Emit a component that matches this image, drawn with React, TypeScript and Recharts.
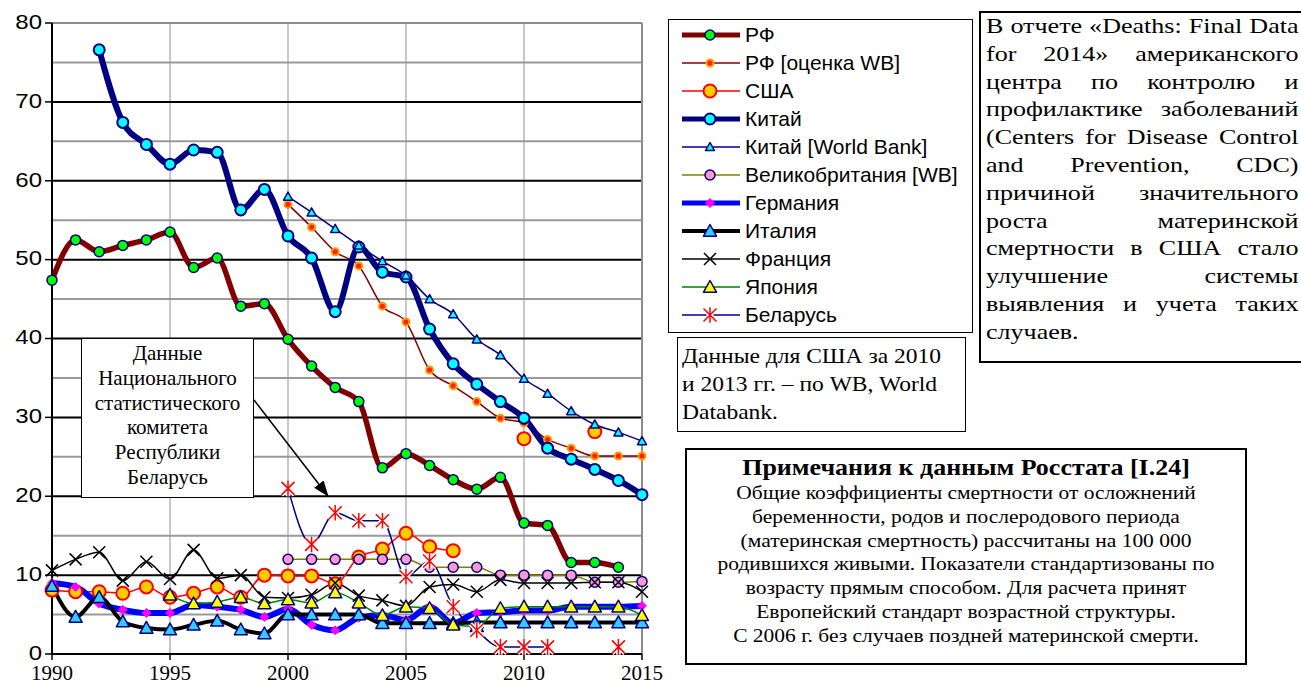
import React from "react";
import { LineChart, Line, XAxis, YAxis, CartesianGrid } from "recharts";

const years = [
  1990, 1991, 1992, 1993, 1994, 1995, 1996, 1997, 1998, 1999, 2000, 2001, 2002,
  2003, 2004, 2005, 2006, 2007, 2008, 2009, 2010, 2011, 2012, 2013, 2014, 2015,
];

const rf = [
  47.4, 52.5, 51.0, 51.8, 52.5, 53.5, 49.0, 50.2, 44.1, 44.4, 39.9, 36.5, 33.8,
  32.0, 23.6, 25.4, 23.9, 22.1, 20.9, 22.4, 16.6, 16.3, 11.6, 11.6, 11.0, null,
];
const rfWb = [
  null, null, null, null, null, null, null, null, null, null, 57.0, 54.1, 51.0,
  49.2, 44.1, 42.1, 36.0, 34.0, 32.0, 29.9, 29.3, 27.2, 26.1, 25.1, 25.1, 25.1,
];
const usa = [
  8.1, 7.9, 7.9, 7.7, 8.5, 7.2, 7.7, 8.5, 7.2, 10.0, 9.9, 9.9, 8.9, 12.3, 13.3,
  15.3, 13.6, 13.1, null, null, 27.3, null, null, 28.2, null, null,
];
const china = [
  null, null, 76.6, 67.4, 64.6, 62.1, 63.9, 63.6, 56.3, 58.9, 53.0, 50.2, 43.4,
  51.6, 48.4, 47.8, 41.2, 36.8, 34.2, 32.0, 29.9, 26.1, 24.7, 23.4, 22.0, 20.2,
];
const chinaWb = [
  null, null, null, null, null, null, null, null, null, null, 58.0, 56.0, 53.9,
  51.8, 49.8, 48.0, 45.0, 43.1, 39.9, 37.9, 34.9, 33.0, 30.8, 29.1, 28.1, 27.0,
];
const ukWb = [
  null, null, null, null, null, null, null, null, null, null, 12, 12, 12, 12,
  12, 12, 11, 11, 11, 10, 10, 10, 10, 9.1, 9.1, 9.2,
];
const germany = [
  9.0, 8.5, 6.4, 5.6, 5.2, 5.2, 6.2, 6.0, 5.6, 4.7, 5.7, 3.7, 3.0, 4.6, 4.9,
  4.3, 6.0, 3.9, 5.2, 5.3, 5.5, 5.5, 6.0, 6.0, 6.0, 6.1,
];
const italy = [
  8.6, 4.7, 7.2, 4.1, 3.3, 3.1, 3.7, 4.2, 3.1, 2.6, 5.0, 5.0, 5.0, 5.0, 3.9,
  3.9, 3.9, 3.9, 4.0, 4.0, 4.0, 4.0, 4.0, 4.0, 4.0, 4.0,
];
const france = [
  10.6, 12.0, 12.9, 9.3, 11.7, 9.5, 13.2, 9.6, 10.0, 7.2, 7.1, 7.5, 9.0, 7.4,
  6.8, 6.1, 8.5, 8.8, 7.9, 9.4, 9.0, 9.0, 9.0, 9.1, 9.1, 7.9,
];
const japan = [
  null, null, null, null, null, 7.5, 6.4, 6.6, 7.2, 6.4, 6.9, 6.5, 7.8, 6.5,
  4.9, 6.0, 5.8, 3.7, 3.5, 5.8, 6.0, 6.0, 6.0, 6.0, 6.0, 4.9,
];
const belarus = [
  null, null, null, null, null, null, null, null, null, null, 21.0, 13.9, 17.9,
  16.9, 16.9, 9.8, 11.8, 6.0, 3.0, 0.9, 0.9, 0.9, null, null, 0.9, null,
];

const xTicks = [1990, 1995, 2000, 2005, 2010, 2015];
const yTicks = [0, 10, 20, 30, 40, 50, 60, 70, 80];

const SERIF = "'Liberation Serif', 'Times New Roman', serif";
const SANS = "'Liberation Sans', Arial, sans-serif";

type MarkerKind = "circle" | "triangle" | "diamond" | "cross" | "star";

interface MarkerStyle {
  kind: MarkerKind;
  size: number;
  fill: string;
  stroke: string;
  sw: number;
}

interface SeriesDef {
  key: string;
  name: string;
  values: (number | null)[];
  stroke: string;
  width: number;
  marker: MarkerStyle;
}

const series: SeriesDef[] = [
  { key: "rf", name: "РФ", values: rf, stroke: "#800000", width: 5.5,
    marker: { kind: "circle", size: 5, fill: "#00ff00", stroke: "#000080", sw: 1.5 } },
  { key: "rfWb", name: "РФ [оценка WB]", values: rfWb, stroke: "#800000", width: 1.5,
    marker: { kind: "circle", size: 3.5, fill: "#ff2000", stroke: "#ff9900", sw: 2 } },
  { key: "usa", name: "США", values: usa, stroke: "#ff0000", width: 1.5,
    marker: { kind: "circle", size: 6.5, fill: "#ffcc00", stroke: "#ff0000", sw: 2 } },
  { key: "china", name: "Китай", values: china, stroke: "#000080", width: 6,
    marker: { kind: "circle", size: 5.5, fill: "#00ffff", stroke: "#000080", sw: 2 } },
  { key: "chinaWb", name: "Китай [World Bank]", values: chinaWb, stroke: "#000080", width: 1.5,
    marker: { kind: "triangle", size: 4.5, fill: "#00ffff", stroke: "#000080", sw: 1.5 } },
  { key: "ukWb", name: "Великобритания [WB]", values: ukWb, stroke: "#808000", width: 1.5,
    marker: { kind: "circle", size: 5, fill: "#ff99cc", stroke: "#000080", sw: 1.5 } },
  { key: "germany", name: "Германия", values: germany, stroke: "#0000ff", width: 6,
    marker: { kind: "diamond", size: 4.5, fill: "#ff00ff", stroke: "#ff00ff", sw: 1 } },
  { key: "italy", name: "Италия", values: italy, stroke: "#000000", width: 4,
    marker: { kind: "triangle", size: 6.5, fill: "#33ccff", stroke: "#000080", sw: 1.5 } },
  { key: "france", name: "Франция", values: france, stroke: "#000000", width: 1.5,
    marker: { kind: "cross", size: 6, fill: "none", stroke: "#000000", sw: 1.5 } },
  { key: "japan", name: "Япония", values: japan, stroke: "#008000", width: 1.5,
    marker: { kind: "triangle", size: 6.5, fill: "#ffff00", stroke: "#000080", sw: 1.5 } },
  { key: "belarus", name: "Беларусь", values: belarus, stroke: "#000080", width: 1.5,
    marker: { kind: "star", size: 6.5, fill: "none", stroke: "#ff0000", sw: 1.5 } },
];

const data = years.map((year, i) => {
  const row: Record<string, number | null> = { year };
  series.forEach((s) => {
    row[s.key] = s.values[i];
  });
  return row;
});

const Marker = ({ m, cx, cy }: { m: MarkerStyle; cx: number; cy: number }) => {
  const s = m.size;
  if (m.kind === "circle") {
    return <circle cx={cx} cy={cy} r={s} fill={m.fill} stroke={m.stroke} strokeWidth={m.sw} />;
  }
  if (m.kind === "triangle") {
    const pts = `${cx},${cy - s} ${cx - s},${cy + s * 0.8} ${cx + s},${cy + s * 0.8}`;
    return <polygon points={pts} fill={m.fill} stroke={m.stroke} strokeWidth={m.sw} strokeLinejoin="round" />;
  }
  if (m.kind === "diamond") {
    const pts = `${cx},${cy - s} ${cx + s},${cy} ${cx},${cy + s} ${cx - s},${cy}`;
    return <polygon points={pts} fill={m.fill} stroke={m.stroke} strokeWidth={m.sw} />;
  }
  if (m.kind === "cross") {
    const d = `M${cx - s},${cy - s}L${cx + s},${cy + s}M${cx + s},${cy - s}L${cx - s},${cy + s}`;
    return <path d={d} stroke={m.stroke} strokeWidth={m.sw} fill="none" />;
  }
  const d =
    `M${cx - s},${cy - s}L${cx + s},${cy + s}M${cx + s},${cy - s}L${cx - s},${cy + s}` +
    `M${cx},${cy - s * 1.2}L${cx},${cy + s * 1.2}`;
  return (
    <g>
      <path d={d} stroke="#ffffff" strokeWidth={m.sw + 3} fill="none" />
      <path d={d} stroke={m.stroke} strokeWidth={m.sw} fill="none" />
    </g>
  );
};

const makeDot = (m: MarkerStyle) => (props: any) => {
  const { cx, cy, index, value } = props;
  if (cx == null || cy == null || value == null) return <g key={`e-${index}`} />;
  return (
    <g key={`d-${index}`}>
      <Marker m={m} cx={cx} cy={cy} />
    </g>
  );
};

// the source picture has its lettering stretched sideways a little
const YTick = (props: any) => {
  const { x, y, payload } = props;
  return (
    <text
      x={0}
      y={0}
      transform={`translate(${x},${y - 1}) scale(1.2,1)`}
      textAnchor="end"
      dominantBaseline="central"
      fontFamily={SANS}
      fontSize={20}
      fill="#000"
    >
      {payload.value}
    </text>
  );
};

const boxBase: React.CSSProperties = {
  position: "absolute",
  boxSizing: "border-box",
  background: "#fff",
  border: "1.5px solid #000",
  color: "#000",
};

const noteLines = [
  "В отчете «Deaths: Final Data",
  "for 2014» американского",
  "центра по контролю и",
  "профилактике заболеваний",
  "(Centers for Disease Control",
  "and Prevention, CDC)",
  "причиной значительного",
  "роста материнской",
  "смертности в США стало",
  "улучшение системы",
  "выявления и учета таких",
];

const rosstatLines = [
  "Общие коэффициенты смертности от осложнений",
  "беременности, родов и послеродового периода",
  "(материнская смертность) рассчитаны на 100 000",
  "родившихся живыми. Показатели стандартизованы по",
  "возрасту прямым способом. Для расчета принят",
  "Европейский стандарт возрастной структуры.",
  "С 2006 г. без случаев поздней материнской смерти.",
];

const belarusLines = ["Данные", "Национального", "статистического", "комитета", "Республики", "Беларусь"];

export default function App() {
  return (
    <div style={{ position: "absolute", left: 0, top: 0, width: 1301, height: 686, background: "#fff", overflow: "hidden" }}>
      <LineChart width={1301} height={686} data={data} margin={{ top: 23, right: 659, left: 0, bottom: 0 }}>
        <CartesianGrid horizontal={false} verticalValues={[1995, 2000, 2005, 2010]} stroke="#c8c8c8" strokeWidth={2} />
        <CartesianGrid vertical={false} horizontalValues={[5, 15, 25, 35, 45, 55, 65, 75]} stroke="#999999" strokeWidth={2} />
        <CartesianGrid vertical={false} horizontalValues={[10, 20, 30, 40, 50, 60, 70]} stroke="#000000" strokeWidth={2} />
        <CartesianGrid horizontalValues={[80]} verticalValues={[2015]} stroke="#8c8c8c" strokeWidth={2} />
        <XAxis
          dataKey="year"
          type="number"
          domain={[1990, 2015]}
          ticks={xTicks}
          interval={0}
          height={32}
          tickSize={6}
          tickMargin={5}
          axisLine={{ stroke: "#000", strokeWidth: 2 }}
          tickLine={{ stroke: "#000", strokeWidth: 1.5 }}
          tick={{ fontFamily: SERIF, fontSize: 21, fill: "#000" }}
        />
        <YAxis
          domain={[0, 80]}
          ticks={yTicks}
          interval={0}
          width={52}
          tickSize={7}
          tickMargin={3}
          axisLine={{ stroke: "#000", strokeWidth: 2 }}
          tickLine={{ stroke: "#000", strokeWidth: 1.5 }}
          tick={<YTick />}
        />
        {series.map((s) => (
          <Line
            key={s.key}
            dataKey={s.key}
            name={s.name}
            type="monotone"
            stroke={s.stroke}
            strokeWidth={s.width}
            dot={makeDot(s.marker)}
            activeDot={false}
            connectNulls={false}
            isAnimationActive={false}
          />
        ))}
      </LineChart>

      {/* legend */}
      <div style={{ ...boxBase, left: 668, top: 19, width: 305, height: 314, fontFamily: SANS, fontSize: 21 }}>
        {series.map((s, i) => (
          <div key={s.key} style={{ position: "absolute", left: 0, top: 1 + i * 28, height: 28, display: "flex", alignItems: "center" }}>
            <svg width={76} height={28}>
              <line x1={13} y1={14} x2={71} y2={14} stroke={s.stroke} strokeWidth={Math.min(s.width, 5)} />
              <Marker m={s.marker} cx={41} cy={14} />
            </svg>
            <span style={{ whiteSpace: "nowrap" }}>{s.name}</span>
          </div>
        ))}
      </div>

      {/* CDC note */}
      <div style={{ ...boxBase, left: 979, top: 11, width: 340, height: 352, border: "2px solid #000", padding: "0 0 0 5px", fontFamily: SERIF, fontSize: 21, lineHeight: "27.8px" }}>
        <div style={{ width: 252, transform: "scaleX(1.24)", transformOrigin: "left top" }}>
          {noteLines.map((l, i) => (
            <div key={i} style={{ textAlign: "justify", textAlignLast: "justify", whiteSpace: "nowrap" }}>{l}</div>
          ))}
          <div>случаев.</div>
        </div>
      </div>

      {/* US note */}
      <div style={{ ...boxBase, left: 677, top: 337, width: 289, height: 95, padding: "4px 0 0 4px", fontFamily: SERIF, fontSize: 21, lineHeight: "28px" }}>
        <div style={{ transform: "scaleX(1.12)", transformOrigin: "left top", whiteSpace: "nowrap" }}>
          Данные для США за 2010
          <br />и 2013 гг. – по WB, World
          <br />Databank.
        </div>
      </div>

      {/* Rosstat note */}
      <div style={{ ...boxBase, left: 685, top: 448, width: 562, height: 217, border: "2px solid #000", padding: "5px 0 0 0", fontFamily: SERIF, textAlign: "center" }}>
        <div style={{ transform: "scaleX(1.13)", transformOrigin: "center top" }}>
          <div style={{ fontWeight: "bold", fontSize: 23, lineHeight: "26px", whiteSpace: "nowrap" }}>Примечания к данным Росстата [I.24]</div>
          {rosstatLines.map((l, i) => (
            <div key={i} style={{ fontSize: 19, lineHeight: "23.8px", whiteSpace: "nowrap" }}>{l}</div>
          ))}
        </div>
      </div>

      {/* Belarus annotation */}
      <div style={{ ...boxBase, left: 81, top: 338, width: 173, height: 160, padding: "2px 0 0 0", fontFamily: SERIF, fontSize: 21, lineHeight: "24.8px", textAlign: "center" }}>
        {belarusLines.map((l, i) => (
          <div key={i}>{l}</div>
        ))}
      </div>
      <svg width={1301} height={686} style={{ position: "absolute", left: 0, top: 0, pointerEvents: "none" }}>
        <defs>
          <marker id="arrowHead" markerWidth="16" markerHeight="12" refX="15" refY="6" orient="auto" markerUnits="userSpaceOnUse">
            <path d="M0,0 L16,6 L0,12 z" fill="#000" />
          </marker>
        </defs>
        <line x1={254} y1={400} x2={328} y2={496} stroke="#000" strokeWidth={1.5} markerEnd="url(#arrowHead)" />
      </svg>
    </div>
  );
}
